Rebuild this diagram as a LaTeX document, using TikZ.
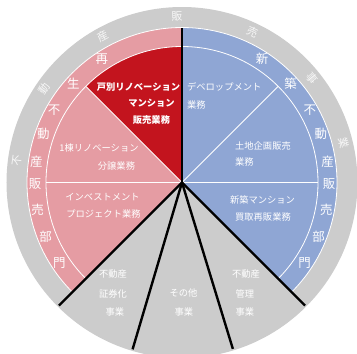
\documentclass[tikz,border=0pt]{standalone}
\usepackage{fontspec}
\setmainfont{Noto Sans CJK JP}
\definecolor{ringgray}{RGB}{204,204,204}
\definecolor{pinkc}{RGB}{229,156,163}
\definecolor{bluec}{RGB}{143,166,212}
\definecolor{darkred}{RGB}{195,20,30}
\begin{document}
\begin{tikzpicture}[x=1bp,y=1bp,
  lbl/.style={text=white, font=\fontsize{9.3}{11}\selectfont, inner sep=0pt},
  boldlbl/.style={lbl, font=\fontsize{9.3}{11}\selectfont\bfseries},
  band/.style={text=white, font=\fontsize{12.5}{13}\selectfont, inner sep=0pt},
  ring/.style={text=white, text opacity=0.85, font=\fontsize{11}{12}\selectfont, inner sep=0pt},
  sep/.style={black, line width=2.4bp},
  wline/.style={white, line width=0.8bp}]
\useasboundingbox (-182,-171.5) rectangle (175,182.5);
\coordinate (O) at (0,0);
% base disc
\fill[ringgray] (O) circle (175.5);
% coloured halves
\fill[pinkc] (O) -- (90:155) arc (90:225:155) -- cycle;
\fill[bluec] (O) -- (-45:155) arc (-45:90:155) -- cycle;
\fill[darkred] (O) -- (90:136) arc (90:135:136) -- cycle;
% white separators
\draw[wline] (225:155) arc (225:-45:155);
\draw[wline] (225:136) arc (225:-45:136);
\draw[wline] (O) -- (180:136);
\draw[wline] (O) -- (135:136);
\draw[wline] (O) -- (45:136);
\draw[wline] (O) -- (0:136);
% black separators
\draw[sep] (O) -- (90:155);
\draw[sep] (O) -- (225:174);
\draw[sep] (O) -- (253.5:174);
\draw[sep] (O) -- (287:174);
\draw[sep] (O) -- (315:174);
% outer ring text
\foreach \a/\c [count=\i] in {172.6/不,145.6/動,118.5/産,91.7/販,65/売,38.6/事,13.7/業}
  \node[ring, rotate=\a-90] (r\i) at (\a:166.5) {\c};
% red band text
\foreach \a/\c [count=\i] in {123/再,137.7/生,150.4/不,160.7/動,172/産,180.6/販,190.7/売,201.8/部,213.4/門}
  \node[band] (rb\i) at (\a:147) {\c};
% blue band text
\foreach \a/\c [count=\i] in {57/新,42.3/築,29.6/不,19.3/動,8/産,-0.6/販,-10.7/売,-21.8/部,-33.4/門}
  \node[band] (bb\i) at (\a:147) {\c};
% dark red sector
\node[boldlbl] (k1) at (-43.5,95.5) {戸別リノベーション};
\node[boldlbl] (k2) at (-30.5,79.5) {マンション};
\node[boldlbl] (k3) at (-30.5,62.5) {販売業務};
% pink sectors
\node[lbl] (p1) at (-83,34.5) {1棟リノベーション};
\node[lbl] (p2) at (-65.5,16.5) {分譲業務};
\node[lbl] (p3) at (-79.5,-14.5) {インベストメント};
\node[lbl] (p4) at (-78.5,-31.5) {プロジェクト業務};
% blue sectors
\node[lbl, anchor=west] (d1) at (5,95.5) {デベロップメント};
\node[lbl, anchor=west] (d2) at (5,77.5) {業務};
\node[lbl, anchor=west] (t1) at (53,36.5) {土地企画販売};
\node[lbl, anchor=west] (t2) at (53,20.5) {業務};
\node[lbl] (s1) at (80.5,-17.5) {新築マンション};
\node[lbl] (s2) at (81,-34.5) {買取再販業務};
% grey sectors
\node[lbl] (g1) at (-69,-91.5) {不動産};
\node[lbl] (g2) at (-69,-111.5) {証券化};
\node[lbl] (g3) at (-67,-129.5) {事業};
\node[lbl] (g4) at (1.5,-110) {その他};
\node[lbl] (g5) at (2,-129.5) {事業};
\node[lbl] (g6) at (64,-91.5) {不動産};
\node[lbl] (g7) at (63,-111) {管理};
\node[lbl] (g8) at (63,-129.5) {事業};
\end{tikzpicture}
\end{document}
